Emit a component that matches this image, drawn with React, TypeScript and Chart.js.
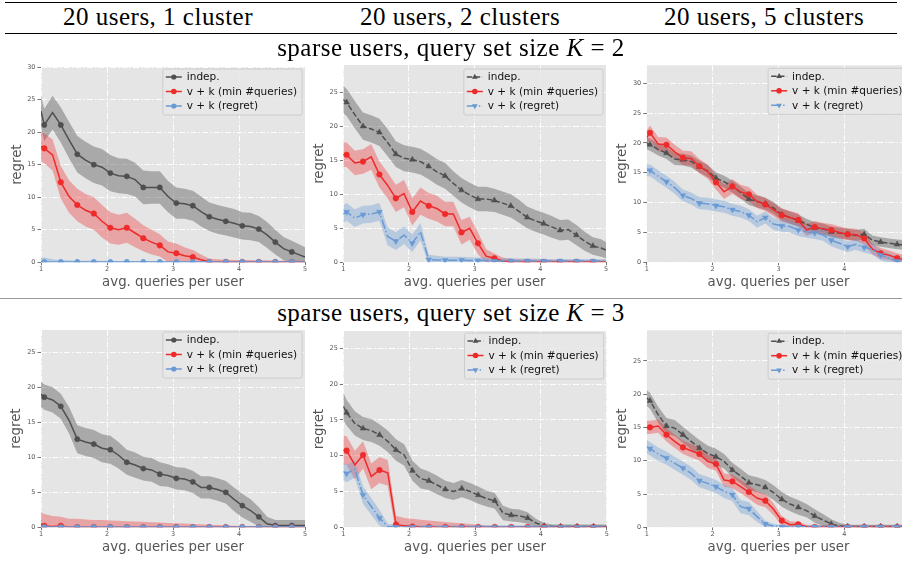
import React, { useEffect, useRef } from 'react';
import { Chart, registerables } from 'chart.js';

Chart.register(...registerables);

// ---------- data ----------
const X = [1, 1.05, 1.175, 1.3, 1.425, 1.55, 1.675, 1.8, 1.925, 2.05, 2.175, 2.3, 2.425, 2.55, 2.675, 2.8, 2.925,
  3.05, 3.175, 3.3, 3.425, 3.55, 3.675, 3.8, 3.925, 4.05, 4.175, 4.3, 4.425, 4.55, 4.675, 4.8, 4.925, 5];

const X_TICKS = [1, 2, 3, 4, 5];
const Y_STEP = 5;
const Y_MAX = [30, 29, 33, 28.2, 27.4, 29.6];

const COL_TITLES = ['20 users, 1 cluster', '20 users, 2 clusters', '20 users, 5 clusters'];
const ROW_TITLES = ['2', '3'];
const LEGEND_LABELS = ['indep.', 'v + k (min #queries)', 'v + k (regret)'];
const X_TITLE = 'avg. queries per user';
const Y_TITLE = 'regret';

// panel 1: K=2, 1 cluster
const p1Indep = [23.2, 21.1, 23.0, 21.1, 18.8, 16.6, 15.7, 15.0, 14.6, 13.7, 13.3, 13.2, 12.7, 11.5, 11.5, 11.5, 10.1, 9.1, 9.0, 8.7, 7.8, 7.0, 6.6, 6.3, 6.0, 5.6, 5.5, 5.1, 4.2, 3.1, 2.1, 1.6, 1.1, 0.8];
const p1IndepErr = [2.4, 2.5, 2.6, 2.7, 2.8, 2.8, 2.8, 2.8, 2.8, 2.8, 2.7, 2.7, 2.6, 2.6, 2.5, 2.5, 2.4, 2.4, 2.3, 2.3, 2.3, 2.2, 2.2, 2.2, 2.2, 2.1, 2.1, 2.0, 2.0, 1.9, 1.8, 1.7, 1.6, 1.5];
const p1Red = [17.8, 17.5, 16.5, 12.3, 10.1, 8.8, 8.0, 7.5, 6.3, 5.3, 5.0, 5.3, 4.5, 3.7, 3.1, 2.6, 1.6, 1.4, 1.0, 0.8, 0.4, 0.05, 0.05, 0.05, 0.05, 0.05, 0.05, 0.05, 0.05, 0.05, 0.05, 0.05, 0.05, 0.05];
const p1RedErr = [2.3, 2.3, 2.4, 2.5, 2.5, 2.5, 2.5, 2.5, 2.5, 2.4, 2.3, 2.3, 2.2, 2.0, 1.9, 1.7, 1.6, 1.5, 1.3, 1.1, 0.8, 0.5, 0.4, 0.35, 0.3, 0.3, 0.3, 0.25, 0.25, 0.2, 0.2, 0.2, 0.2, 0.2];
const p1Blue = [0.05, 0.05, 0.05, 0.05, 0.05, 0.05, 0.05, 0.05, 0.05, 0.05, 0.05, 0.05, 0.05, 0.05, 0.05, 0.05, 0.05, 0.05, 0.05, 0.05, 0.05, 0.05, 0.05, 0.05, 0.05, 0.05, 0.05, 0.05, 0.05, 0.05, 0.05, 0.05, 0.05, 0.05];
const p1BlueErr = [0.6, 0.7, 0.4, 0.3, 0.25, 0.2, 0.2, 0.2, 0.2, 0.2, 0.15, 0.15, 0.15, 0.15, 0.15, 0.15, 0.15, 0.15, 0.15, 0.15, 0.15, 0.15, 0.15, 0.15, 0.15, 0.15, 0.15, 0.15, 0.15, 0.15, 0.15, 0.15, 0.15, 0.15];

// panel 2: K=2, 2 clusters
const p2Indep = [23.9, 23.5, 21.7, 20.0, 19.6, 19.1, 17.6, 15.9, 15.3, 15.1, 14.8, 14.1, 13.3, 12.7, 11.6, 10.6, 9.9, 9.3, 9.3, 9.1, 8.7, 8.3, 7.5, 6.6, 6.1, 5.7, 5.2, 4.7, 4.8, 4.0, 3.1, 2.4, 2.1, 1.8];
const p2IndepErr = [2.0, 2.0, 2.0, 2.0, 2.0, 2.0, 2.0, 1.9, 1.9, 1.9, 1.9, 1.9, 1.9, 1.9, 1.8, 1.8, 1.8, 1.8, 1.8, 1.7, 1.7, 1.7, 1.7, 1.6, 1.6, 1.6, 1.6, 1.5, 1.5, 1.5, 1.4, 1.3, 1.3, 1.2];
const p2Red = [15.8, 15.8, 14.6, 14.8, 15.5, 12.9, 11.3, 9.4, 10.1, 7.4, 9.0, 8.3, 7.9, 7.1, 7.1, 4.4, 5.0, 2.8, 0.9, 0.6, 0.2, 0.05, 0.05, 0.05, 0.05, 0.05, 0.05, 0.05, 0.05, 0.05, 0.05, 0.05, 0.05, 0.05];
const p2RedErr = [1.8, 1.8, 1.8, 1.8, 1.9, 1.9, 1.9, 2.0, 2.0, 2.0, 2.0, 1.9, 1.9, 1.8, 1.8, 1.8, 1.7, 1.6, 1.0, 0.7, 0.5, 0.45, 0.4, 0.4, 0.35, 0.35, 0.3, 0.3, 0.3, 0.25, 0.25, 0.25, 0.2, 0.2];
const p2Blue = [7.1, 7.4, 6.5, 7.0, 7.1, 7.4, 3.8, 3.1, 4.0, 2.8, 4.5, 0.4, 0.35, 0.3, 0.3, 0.3, 0.25, 0.25, 0.25, 0.2, 0.2, 0.2, 0.2, 0.2, 0.2, 0.2, 0.2, 0.2, 0.2, 0.2, 0.2, 0.2, 0.2, 0.2];
const p2BlueErr = [1.3, 1.3, 1.3, 1.3, 1.3, 1.3, 1.3, 1.3, 1.3, 1.3, 1.3, 0.7, 0.6, 0.5, 0.5, 0.5, 0.5, 0.45, 0.45, 0.4, 0.4, 0.4, 0.35, 0.35, 0.35, 0.3, 0.3, 0.3, 0.3, 0.3, 0.3, 0.3, 0.3, 0.3];

// panel 3: K=2, 5 clusters
const p3Indep = [19.9, 19.7, 18.9, 18.3, 17.3, 17.2, 16.9, 16.0, 15.3, 14.1, 13.5, 12.7, 11.7, 10.6, 10.2, 9.8, 9.1, 8.0, 7.5, 7.0, 6.4, 5.8, 5.6, 5.1, 4.9, 4.7, 4.5, 4.7, 3.7, 3.4, 3.2, 3.0, 2.9, 2.8];
const p3IndepErr = [1.0, 1.0, 1.0, 1.0, 1.0, 1.0, 1.0, 1.0, 1.0, 1.0, 1.0, 1.0, 1.0, 1.0, 1.0, 1.0, 1.0, 1.0, 1.0, 1.0, 0.9, 0.9, 0.9, 0.9, 0.9, 0.9, 0.9, 0.9, 0.8, 0.8, 0.8, 0.8, 0.8, 0.8];
const p3Red = [20.9, 21.7, 19.8, 19.7, 18.5, 17.5, 17.4, 16.1, 15.2, 13.4, 11.8, 12.7, 11.8, 11.4, 10.2, 9.7, 8.8, 7.9, 7.5, 7.1, 5.4, 5.9, 5.6, 5.4, 5.0, 4.7, 4.6, 4.0, 2.2, 1.5, 1.2, 0.7, 0.4, 0.2];
const p3RedErr = [1.2, 1.2, 1.2, 1.2, 1.2, 1.2, 1.2, 1.2, 1.2, 1.2, 1.2, 1.2, 1.2, 1.2, 1.1, 1.1, 1.1, 1.1, 1.1, 1.1, 1.0, 1.0, 1.0, 1.0, 1.0, 1.0, 1.0, 1.0, 0.9, 0.9, 0.8, 0.8, 0.8, 0.8];
const p3Blue = [15.4, 15.4, 14.4, 13.5, 12.5, 11.2, 10.7, 9.9, 9.8, 9.5, 9.3, 8.8, 8.5, 7.9, 6.8, 7.5, 6.4, 6.1, 6.0, 5.4, 5.1, 4.9, 4.6, 3.7, 3.2, 2.6, 3.0, 2.5, 2.2, 1.2, 0.7, 0.2, 0.1, 0.05];
const p3BlueErr = [1.0, 1.0, 1.0, 1.0, 1.0, 1.0, 1.0, 1.0, 1.0, 1.0, 1.0, 1.0, 1.0, 1.0, 1.0, 1.0, 1.0, 1.0, 1.0, 1.0, 1.0, 1.0, 1.0, 1.0, 1.0, 0.9, 0.9, 0.9, 0.9, 0.9, 0.8, 0.8, 0.8, 0.8];

// panel 4: K=3, 1 cluster
const p4Indep = [19.0, 18.6, 18.2, 17.3, 15.3, 12.6, 12.2, 11.9, 11.3, 11.1, 10.3, 9.3, 8.9, 8.4, 8.2, 7.6, 7.4, 7.0, 6.9, 6.5, 5.7, 5.7, 5.4, 5.0, 4.0, 3.1, 2.4, 1.5, 0.5, 0.25, 0.25, 0.25, 0.25, 0.25];
const p4IndepErr = [1.8, 1.8, 1.8, 1.8, 1.9, 2.0, 2.0, 2.0, 2.0, 2.0, 1.9, 1.8, 1.8, 1.7, 1.7, 1.7, 1.6, 1.6, 1.6, 1.6, 1.6, 1.6, 1.6, 1.6, 1.7, 1.7, 1.6, 1.4, 1.0, 0.8, 0.8, 0.8, 0.8, 0.8];
const p4Red = [0.5, 0.2, 0.1, 0.2, 0.03, 0.03, 0.03, 0.03, 0.03, 0.03, 0.03, 0.03, 0.03, 0.03, 0.03, 0.03, 0.03, 0.03, 0.03, 0.03, 0.03, 0.03, 0.03, 0.03, 0.03, 0.03, 0.03, 0.03, 0.03, 0.03, 0.03, 0.03, 0.03, 0.03];
const p4RedErr = [1.6, 1.7, 1.5, 1.3, 1.2, 1.2, 1.1, 1.0, 1.0, 0.95, 0.9, 0.85, 0.8, 0.75, 0.7, 0.65, 0.6, 0.55, 0.5, 0.45, 0.4, 0.35, 0.3, 0.25, 0.2, 0.15, 0.1, 0.08, 0.06, 0.05, 0.05, 0.05, 0.05, 0.05];
const p4Blue = [0.03, 0.03, 0.03, 0.03, 0.03, 0.03, 0.03, 0.03, 0.03, 0.03, 0.03, 0.03, 0.03, 0.03, 0.03, 0.03, 0.03, 0.03, 0.03, 0.03, 0.03, 0.03, 0.03, 0.03, 0.03, 0.03, 0.03, 0.03, 0.03, 0.03, 0.03, 0.03, 0.03, 0.03];
const p4BlueErr = [0.05, 0.05, 0.05, 0.05, 0.05, 0.05, 0.05, 0.05, 0.05, 0.05, 0.05, 0.05, 0.05, 0.05, 0.05, 0.05, 0.05, 0.05, 0.05, 0.05, 0.05, 0.05, 0.05, 0.05, 0.05, 0.05, 0.05, 0.05, 0.05, 0.05, 0.05, 0.05, 0.05, 0.05];

// panel 5: K=3, 2 clusters
const p5Indep = [16.9, 16.0, 14.5, 13.8, 13.5, 12.9, 12.0, 10.8, 10.1, 7.9, 6.8, 6.5, 5.9, 5.3, 5.0, 5.4, 5.0, 4.5, 4.0, 3.7, 2.0, 1.7, 1.6, 1.3, 0.6, 0.2, 0.1, 0.1, 0.1, 0.1, 0.1, 0.1, 0.1, 0.1];
const p5IndepErr = [1.9, 1.8, 1.7, 1.6, 1.6, 1.5, 1.5, 1.5, 1.5, 1.4, 1.4, 1.3, 1.3, 1.2, 1.2, 1.2, 1.2, 1.2, 1.1, 1.1, 1.0, 0.9, 0.9, 0.8, 0.6, 0.4, 0.3, 0.3, 0.3, 0.3, 0.3, 0.3, 0.3, 0.3];
const p5Red = [10.8, 10.7, 8.7, 10.1, 7.1, 8.0, 7.6, 0.4, 0.2, 0.1, 0.05, 0.05, 0.05, 0.05, 0.05, 0.05, 0.05, 0.05, 0.05, 0.05, 0.05, 0.05, 0.05, 0.05, 0.05, 0.05, 0.05, 0.05, 0.05, 0.05, 0.05, 0.05, 0.05, 0.05];
const p5RedErr = [2.0, 2.0, 2.0, 1.9, 1.8, 1.8, 1.8, 1.2, 1.1, 1.1, 1.0, 0.9, 0.8, 0.7, 0.6, 0.5, 0.4, 0.3, 0.2, 0.15, 0.1, 0.1, 0.1, 0.1, 0.1, 0.1, 0.1, 0.1, 0.1, 0.1, 0.1, 0.1, 0.1, 0.1];
const p5Blue = [7.8, 7.5, 8.1, 4.5, 2.9, 1.3, 0.1, 0.05, 0.05, 0.05, 0.05, 0.05, 0.05, 0.05, 0.05, 0.05, 0.05, 0.05, 0.05, 0.05, 0.05, 0.05, 0.05, 0.05, 0.05, 0.05, 0.05, 0.05, 0.05, 0.05, 0.05, 0.05, 0.05, 0.05];
const p5BlueErr = [1.2, 1.2, 1.2, 1.2, 1.2, 1.1, 0.4, 0.3, 0.3, 0.3, 0.25, 0.25, 0.25, 0.25, 0.25, 0.25, 0.25, 0.25, 0.25, 0.25, 0.25, 0.25, 0.25, 0.25, 0.25, 0.25, 0.25, 0.25, 0.25, 0.25, 0.25, 0.25, 0.25, 0.25];

// panel 6: K=3, 5 clusters
const p6Indep = [19.4, 19.0, 16.9, 15.2, 14.9, 13.9, 12.9, 11.9, 11.1, 10.6, 9.9, 8.6, 7.7, 6.7, 6.4, 6.0, 5.2, 4.2, 3.5, 3.0, 2.5, 1.7, 1.1, 0.5, 0.2, 0.1, 0.1, 0.1, 0.1, 0.1, 0.1, 0.1, 0.1, 0.1];
const p6IndepErr = [1.2, 1.2, 1.2, 1.2, 1.2, 1.2, 1.2, 1.2, 1.2, 1.2, 1.1, 1.1, 1.1, 1.1, 1.1, 1.1, 1.1, 1.1, 1.1, 1.1, 1.0, 1.0, 0.9, 0.7, 0.5, 0.3, 0.3, 0.3, 0.3, 0.3, 0.3, 0.3, 0.3, 0.3];
const p6Red = [15.0, 15.0, 15.2, 13.9, 12.9, 12.0, 11.5, 11.0, 9.9, 9.5, 7.1, 6.9, 6.1, 5.3, 4.4, 4.0, 2.7, 1.0, 0.4, 0.45, 0.1, 0.05, 0.05, 0.05, 0.05, 0.05, 0.05, 0.05, 0.05, 0.05, 0.05, 0.05, 0.05, 0.05];
const p6RedErr = [1.0, 1.0, 1.0, 1.0, 1.0, 1.0, 1.0, 1.0, 1.0, 1.0, 1.0, 1.0, 1.0, 1.0, 1.0, 1.0, 0.9, 0.7, 0.5, 0.4, 0.3, 0.3, 0.3, 0.3, 0.3, 0.3, 0.3, 0.3, 0.3, 0.3, 0.3, 0.3, 0.3, 0.3];
const p6Blue = [12.1, 11.8, 11.0, 10.4, 9.6, 8.9, 8.1, 7.0, 6.6, 6.1, 5.4, 4.9, 3.1, 2.8, 1.6, 0.5, 0.2, 0.1, 0.1, 0.1, 0.1, 0.1, 0.1, 0.1, 0.1, 0.1, 0.1, 0.1, 0.1, 0.1, 0.1, 0.1, 0.1, 0.1];
const p6BlueErr = [1.0, 1.0, 1.0, 1.0, 1.0, 1.0, 1.0, 1.0, 1.0, 1.0, 1.0, 1.0, 1.0, 1.0, 0.8, 0.5, 0.3, 0.2, 0.2, 0.2, 0.2, 0.2, 0.2, 0.2, 0.2, 0.2, 0.2, 0.2, 0.2, 0.2, 0.2, 0.2, 0.2, 0.2];

// ---------- styles ----------
const GRAY = '#4f4f4f';
const RED = '#ee2a2a';
const BLUE = '#6a9ad4';
const GRAY_BAND = 'rgba(80,80,80,0.40)';
const RED_BAND = 'rgba(238,42,42,0.35)';
const BLUE_BAND = 'rgba(106,154,212,0.38)';
const DASH = [5.5, 2.4];
const DASHDOT = [9.6, 2.4, 1.5, 2.4];
const FONT = '"DejaVu Sans", sans-serif';

type Style = { color: string; band: string; dash: number[]; marker: 'circle' | 'triangle'; rot: number; r: number };
const S_INDEP_SOLID: Style = { color: GRAY, band: GRAY_BAND, dash: [], marker: 'circle', rot: 0, r: 2.6 };
const S_INDEP_DASH: Style = { color: GRAY, band: GRAY_BAND, dash: DASH, marker: 'triangle', rot: 0, r: 3.3 };
const S_RED: Style = { color: RED, band: RED_BAND, dash: [], marker: 'circle', rot: 0, r: 2.8 };
const S_BLUE_SOLID: Style = { color: BLUE, band: BLUE_BAND, dash: [], marker: 'circle', rot: 0, r: 2.6 };
const S_BLUE_DASHDOT: Style = { color: BLUE, band: BLUE_BAND, dash: DASHDOT, marker: 'triangle', rot: 180, r: 3.3 };

type Series = { mean: number[]; err: number[]; style: Style };
type PanelDef = {
  left: number; top: number; w: number; h: number;
  padTop: number; padRight: number; yWidth: number; xHeight: number;
  yTitlePad: number; xTitlePad: number; ymax: number; legendTop: number;
  series: Series[];
};

const PANELS: PanelDef[] = [
  { left: 0, top: 58, w: 310, h: 240, padTop: 9, padRight: 5, yWidth: 41, xHeight: 35.7, yTitlePad: 10, xTitlePad: 7, ymax: Y_MAX[0], legendTop: 2,
    series: [ { mean: p1Indep, err: p1IndepErr, style: S_INDEP_SOLID }, { mean: p1Red, err: p1RedErr, style: S_RED }, { mean: p1Blue, err: p1BlueErr, style: S_BLUE_SOLID } ] },
  { left: 308, top: 58, w: 302, h: 240, padTop: 7, padRight: 4, yWidth: 35.3, xHeight: 35.7, yTitlePad: 4, xTitlePad: 7, ymax: Y_MAX[1], legendTop: 4,
    series: [ { mean: p2Indep, err: p2IndepErr, style: S_INDEP_DASH }, { mean: p2Red, err: p2RedErr, style: S_RED }, { mean: p2Blue, err: p2BlueErr, style: S_BLUE_DASHDOT } ] },
  { left: 610, top: 58, w: 304, h: 240, padTop: 7.3, padRight: 3.7, yWidth: 36.7, xHeight: 35.7, yTitlePad: 5, xTitlePad: 7, ymax: Y_MAX[2], legendTop: 3,
    series: [ { mean: p3Indep, err: p3IndepErr, style: S_INDEP_DASH }, { mean: p3Red, err: p3RedErr, style: S_RED }, { mean: p3Blue, err: p3BlueErr, style: S_BLUE_DASHDOT } ] },
  { left: 0, top: 326, w: 310, h: 235, padTop: 4, padRight: 5, yWidth: 41, xHeight: 33.7, yTitlePad: 9, xTitlePad: 5, ymax: Y_MAX[3], legendTop: 2,
    series: [ { mean: p4Indep, err: p4IndepErr, style: S_INDEP_SOLID }, { mean: p4Red, err: p4RedErr, style: S_RED }, { mean: p4Blue, err: p4BlueErr, style: S_BLUE_SOLID } ] },
  { left: 308, top: 326, w: 302, h: 235, padTop: 5, padRight: 3.3, yWidth: 35.3, xHeight: 33.7, yTitlePad: 4, xTitlePad: 5, ymax: Y_MAX[4], legendTop: 2,
    series: [ { mean: p5Indep, err: p5IndepErr, style: S_INDEP_DASH }, { mean: p5Red, err: p5RedErr, style: S_RED }, { mean: p5Blue, err: p5BlueErr, style: S_BLUE_DASHDOT } ] },
  { left: 610, top: 326, w: 304, h: 235, padTop: 4.2, padRight: 3.7, yWidth: 36.7, xHeight: 33.7, yTitlePad: 5, xTitlePad: 5, ymax: Y_MAX[5], legendTop: 3,
    series: [ { mean: p6Indep, err: p6IndepErr, style: S_INDEP_DASH }, { mean: p6Red, err: p6RedErr, style: S_RED }, { mean: p6Blue, err: p6BlueErr, style: S_BLUE_DASHDOT } ] },
];

// ---------- plugins ----------
function drawMarker(ctx: CanvasRenderingContext2D, st: Style, x: number, y: number) {
  ctx.fillStyle = st.color;
  ctx.beginPath();
  if (st.marker === 'circle') {
    ctx.arc(x, y, st.r, 0, Math.PI * 2);
  } else {
    let rad = (st.rot * Math.PI) / 180;
    ctx.moveTo(x + Math.sin(rad) * st.r, y - Math.cos(rad) * st.r);
    rad += (2 * Math.PI) / 3;
    ctx.lineTo(x + Math.sin(rad) * st.r, y - Math.cos(rad) * st.r);
    rad += (2 * Math.PI) / 3;
    ctx.lineTo(x + Math.sin(rad) * st.r, y - Math.cos(rad) * st.r);
    ctx.closePath();
  }
  ctx.fill();
}

const bgPlugin = {
  id: 'axesBg',
  beforeDraw(chart: any) {
    const { ctx, chartArea } = chart;
    ctx.save();
    ctx.fillStyle = '#e5e5e5';
    ctx.fillRect(chartArea.left, chartArea.top, chartArea.right - chartArea.left, chartArea.bottom - chartArea.top);
    ctx.restore();
  },
};

const legendPlugin = {
  id: 'mplLegend',
  afterDatasetsDraw(chart: any, _args: any, opts: any) {
    const { ctx, chartArea } = chart;
    const items: { label: string; style: Style }[] = opts.items || [];
    ctx.save();
    ctx.font = '10.5px ' + FONT;
    const tw = Math.max(...items.map((it) => ctx.measureText(it.label).width));
    const W = 3 + 16 + 5 + tw + 5;
    const H = 46;
    const x0 = chartArea.right - 3 - W;
    const y0 = chartArea.top + (opts.top || 3);
    ctx.beginPath();
    const rr = 2;
    ctx.moveTo(x0 + rr, y0);
    ctx.lineTo(x0 + W - rr, y0);
    ctx.quadraticCurveTo(x0 + W, y0, x0 + W, y0 + rr);
    ctx.lineTo(x0 + W, y0 + H - rr);
    ctx.quadraticCurveTo(x0 + W, y0 + H, x0 + W - rr, y0 + H);
    ctx.lineTo(x0 + rr, y0 + H);
    ctx.quadraticCurveTo(x0, y0 + H, x0, y0 + H - rr);
    ctx.lineTo(x0, y0 + rr);
    ctx.quadraticCurveTo(x0, y0, x0 + rr, y0);
    ctx.closePath();
    ctx.fillStyle = 'rgba(232,232,232,0.85)';
    ctx.fill();
    ctx.strokeStyle = '#cccccc';
    ctx.lineWidth = 1;
    ctx.stroke();
    items.forEach((it, k) => {
      const cy = y0 + 8 + k * 14.5;
      ctx.strokeStyle = it.style.color;
      ctx.lineWidth = 1.5;
      ctx.setLineDash(it.style.dash);
      ctx.beginPath();
      ctx.moveTo(x0 + 3, cy);
      ctx.lineTo(x0 + 19, cy);
      ctx.stroke();
      ctx.setLineDash([]);
      drawMarker(ctx, it.style, x0 + 11, cy);
      ctx.fillStyle = '#111';
      ctx.textBaseline = 'middle';
      ctx.textAlign = 'left';
      ctx.fillText(it.label, x0 + 24, cy + 0.5);
    });
    ctx.restore();
  },
};

function isMarker(i: number) {
  return i % 2 === 1 && i < X.length - 1;
}

function buildConfig(p: PanelDef): any {
  const datasets: any[] = [];
  p.series.forEach((s, k) => {
    datasets.push({
      data: X.map((x, i) => ({ x, y: s.mean[i] - s.err[i] })),
      borderWidth: 0, borderColor: 'rgba(0,0,0,0)', pointRadius: 0, fill: false, order: 30 - k,
    });
    datasets.push({
      data: X.map((x, i) => ({ x, y: s.mean[i] + s.err[i] })),
      borderWidth: 0, borderColor: 'rgba(0,0,0,0)', pointRadius: 0, fill: '-1', backgroundColor: s.style.band, order: 30 - k,
    });
  });
  p.series.forEach((s, k) => {
    datasets.push({
      data: X.map((x, i) => ({ x, y: s.mean[i] })),
      borderColor: s.style.color,
      borderWidth: 1.5,
      borderDash: s.style.dash,
      tension: 0,
      fill: false,
      pointStyle: s.style.marker,
      pointRotation: s.style.rot,
      pointRadius: (ctx: any) => (isMarker(ctx.dataIndex) ? s.style.r : 0),
      pointBackgroundColor: s.style.color,
      pointBorderColor: s.style.color,
      pointBorderWidth: 0.5,
      order: 3 - k,
    });
  });

  const tickFont = { family: FONT, size: 6.5 };
  const titleFont = { family: FONT, size: 13.3 };
  const gridCommon = { color: '#ffffff', lineWidth: 0.9, tickColor: '#555555', tickWidth: 0.8, tickBorderDash: [] };
  const borderCommon = { display: false, dash: [6, 2, 1.5, 2] };

  return {
    type: 'line',
    data: { datasets },
    options: {
      animation: false,
      responsive: false,
      maintainAspectRatio: false,
      devicePixelRatio: 1,
      events: [],
      layout: { padding: { left: 0, right: p.padRight, top: p.padTop, bottom: 0 } },
      plugins: {
        legend: { display: false },
        tooltip: { enabled: false },
        mplLegend: { top: p.legendTop, items: p.series.map((s, k) => ({ label: LEGEND_LABELS[k], style: s.style })) },
      },
      scales: {
        x: {
          type: 'linear', min: X_TICKS[0], max: X_TICKS[X_TICKS.length - 1], bounds: 'data',
          ticks: { stepSize: 1, includeBounds: false, autoSkip: false, maxRotation: 0, padding: 0, color: '#555555', font: tickFont },
          grid: { ...gridCommon, tickLength: 3 },
          border: borderCommon,
          title: { display: true, text: X_TITLE, color: '#555555', font: titleFont, padding: { top: 0, bottom: p.xTitlePad } },
          afterBuildTicks: (s: any) => { s.ticks = s.ticks.filter((t: any) => X_TICKS.includes(t.value)); },
          afterFit: (s: any) => { s.height = p.xHeight; s.paddingLeft = 0; s.paddingRight = 0; },
        },
        y: {
          type: 'linear', min: 0, max: p.ymax, bounds: 'data',
          ticks: { stepSize: Y_STEP, includeBounds: false, padding: 2, color: '#555555', font: tickFont },
          grid: { ...gridCommon, tickLength: 3.5 },
          border: borderCommon,
          title: { display: true, text: Y_TITLE, color: '#555555', font: titleFont, padding: { top: p.yTitlePad, bottom: 0 } },
          afterBuildTicks: (s: any) => { s.ticks = s.ticks.filter((t: any) => Math.abs(t.value / Y_STEP - Math.round(t.value / Y_STEP)) < 1e-6); },
          afterFit: (s: any) => { s.width = p.yWidth; s.paddingTop = 0; s.paddingBottom = 0; },
        },
      },
    },
    plugins: [bgPlugin, legendPlugin],
  };
}

function Panel({ p }: { p: PanelDef }) {
  const ref = useRef<HTMLCanvasElement>(null);
  useEffect(() => {
    const chart = new Chart(ref.current as HTMLCanvasElement, buildConfig(p));
    return () => chart.destroy();
  }, [p]);
  return (
    <canvas
      ref={ref}
      width={p.w}
      height={p.h}
      style={{ position: 'absolute', left: p.left, top: p.top, width: p.w, height: p.h }}
    />
  );
}

const serif: React.CSSProperties = {
  position: 'absolute',
  fontFamily: '"Liberation Serif", "Times New Roman", serif',
  fontSize: 25,
  lineHeight: '25px',
  letterSpacing: 0.5,
  color: '#000',
  textAlign: 'center',
  whiteSpace: 'nowrap',
  zIndex: 2,
};

export default function App() {
  useEffect(() => {
    document.body.style.margin = '0';
    document.documentElement.style.overflow = 'hidden';
  }, []);
  const colCenters = [158, 460, 764];
  return (
    <div style={{ position: 'fixed', left: 0, top: 0, width: 902, height: 561, overflow: 'hidden', background: '#fff' }}>
      <div style={{ position: 'absolute', left: 5, top: 2, width: 892, height: 0, borderTop: '1.6px solid #000' }} />
      {COL_TITLES.map((t, i) => (
        <div key={t} style={{ ...serif, left: colCenters[i] - 150, width: 300, top: 4 }}>{t}</div>
      ))}
      <div style={{ position: 'absolute', left: 5, top: 33, width: 892, height: 0, borderTop: '1.3px solid #000' }} />
      <div style={{ ...serif, left: 151, width: 600, top: 35 }}>
        sparse users, query set size <i>K</i> = {ROW_TITLES[0]}
      </div>
      <div style={{ position: 'absolute', left: 0, top: 298, width: 902, height: 0, borderTop: '1.3px solid #999' }} />
      <div style={{ ...serif, left: 151, width: 600, top: 300 }}>
        sparse users, query set size <i>K</i> = {ROW_TITLES[1]}
      </div>
      {PANELS.map((p, i) => (
        <Panel key={i} p={p} />
      ))}
    </div>
  );
}
